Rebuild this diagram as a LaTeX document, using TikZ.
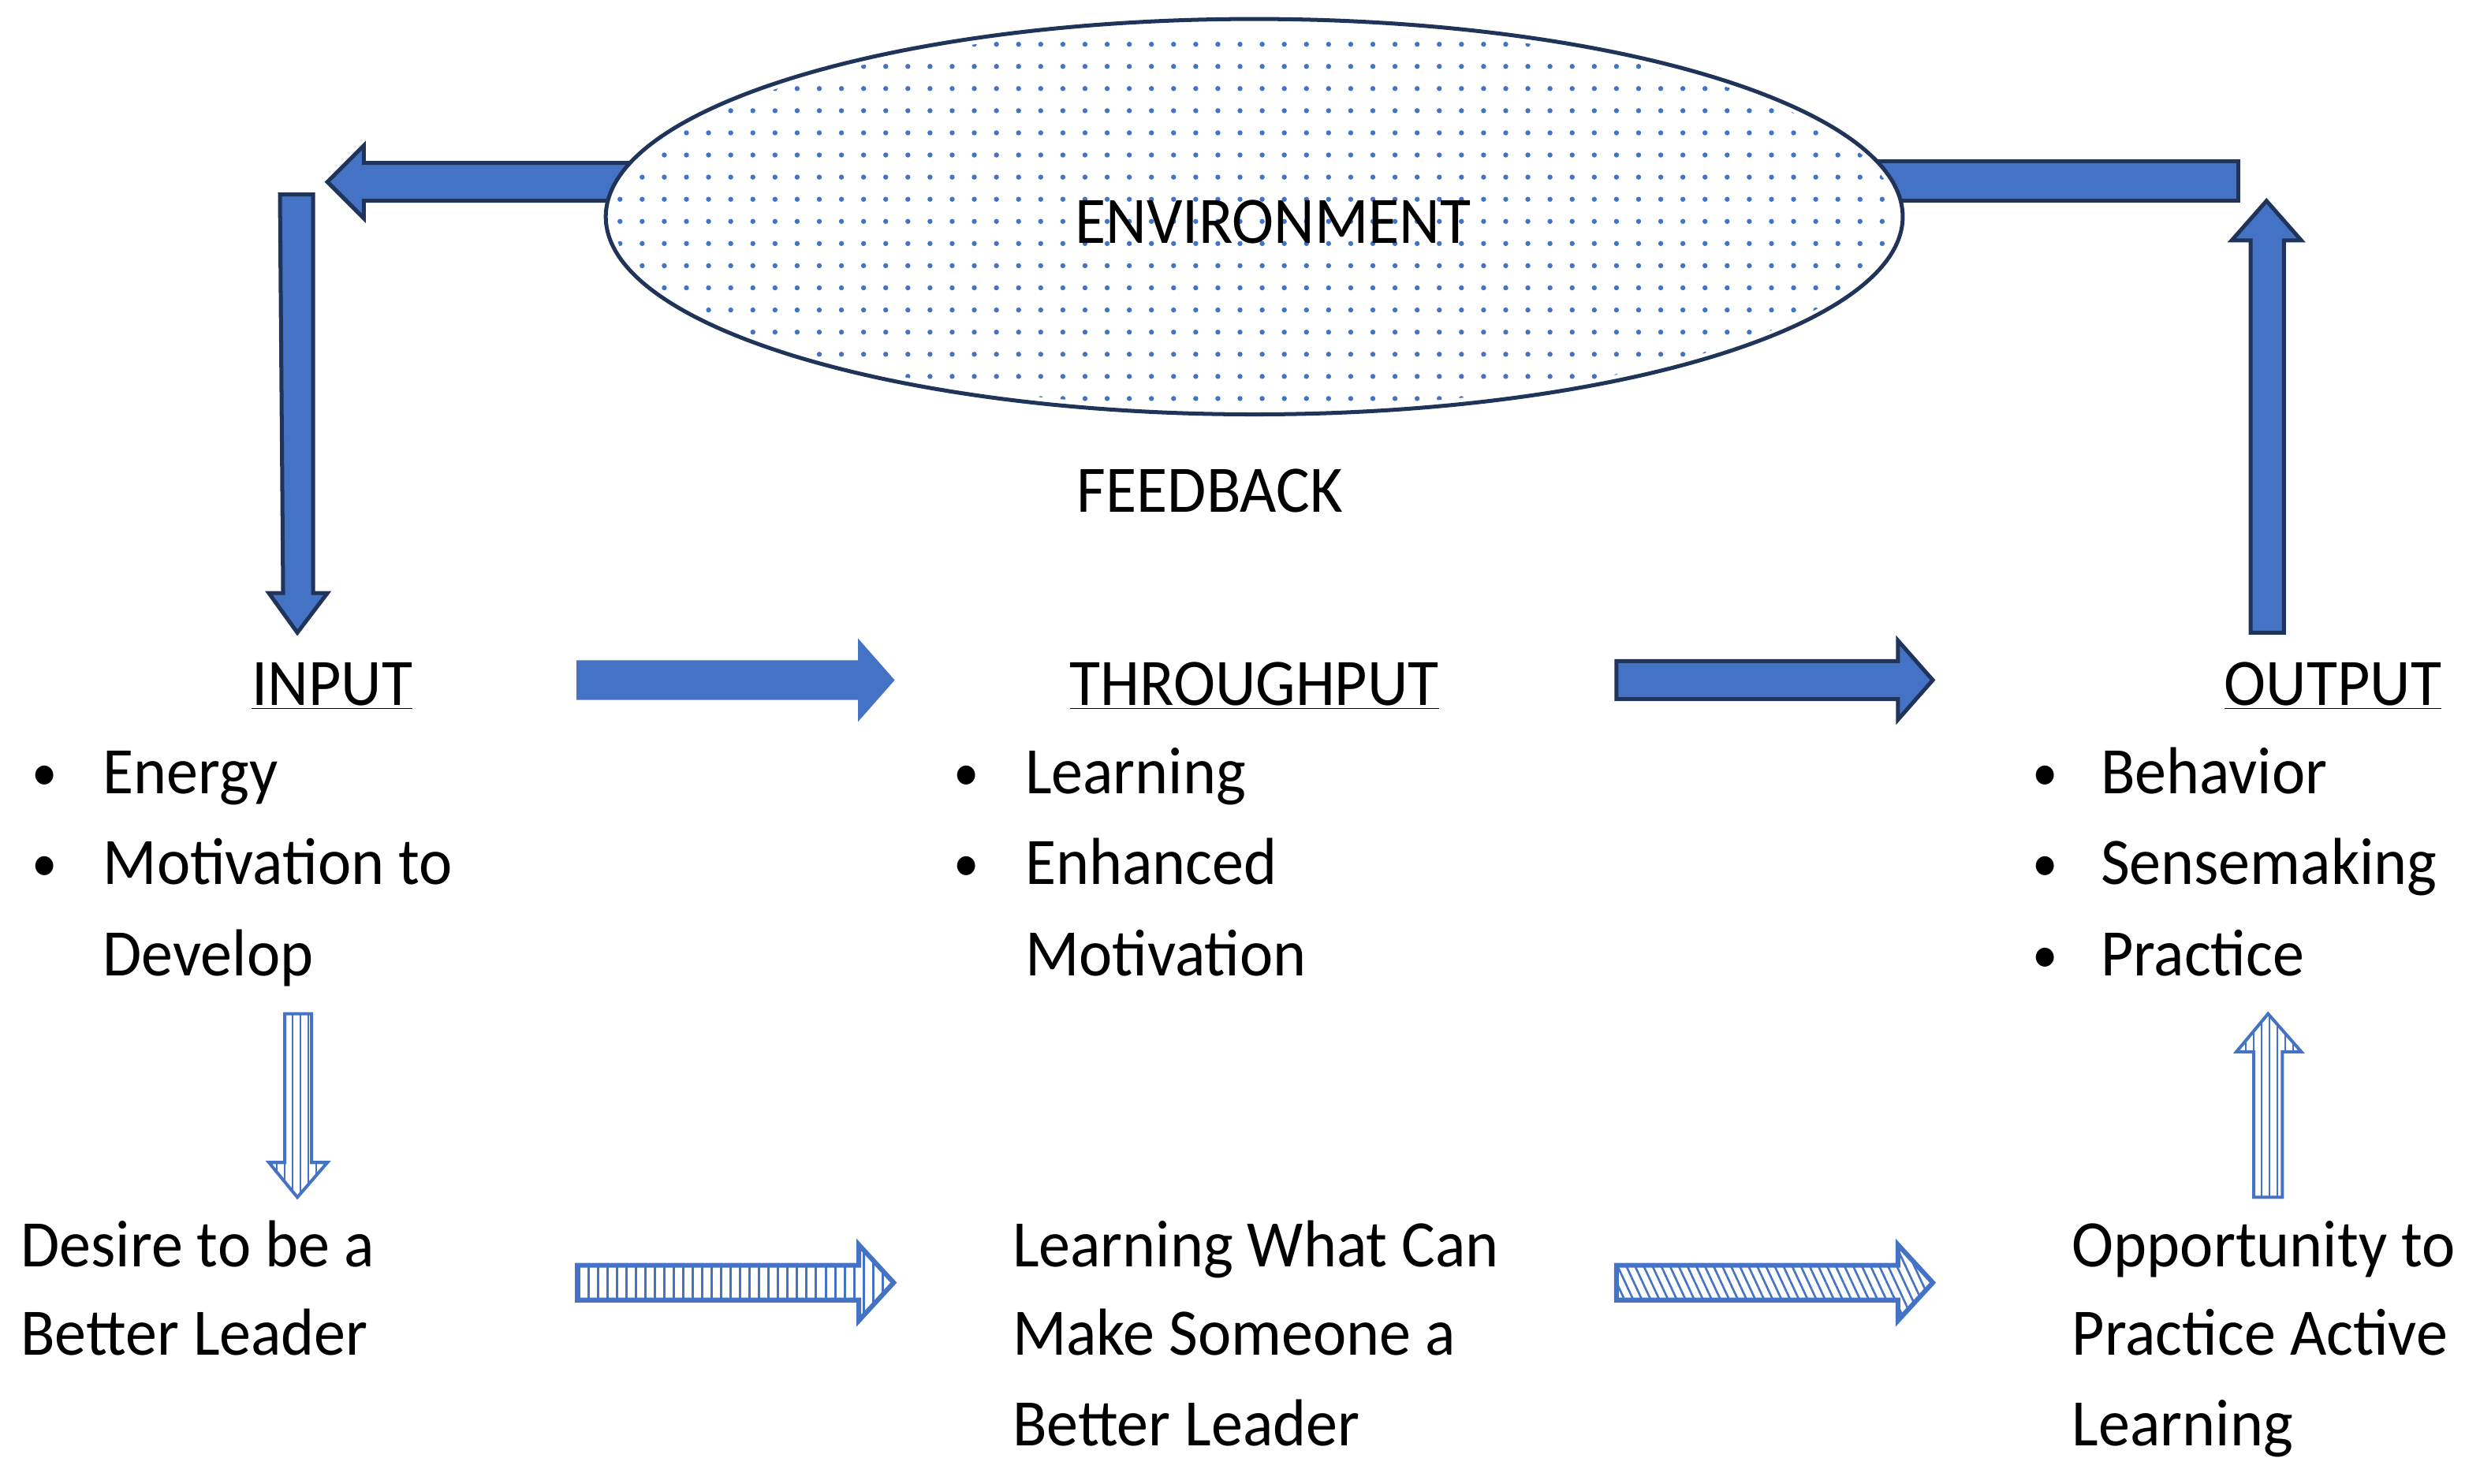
\documentclass[tikz,border=0pt]{standalone}
\usepackage{fontspec}
\setmainfont{Carlito}
\usetikzlibrary{patterns,patterns.meta,shapes.geometric}
\definecolor{bl}{HTML}{4472C4}
\definecolor{dk}{HTML}{1F3458}
\begin{document}
\begin{tikzpicture}[x=1pt,y=-1pt,
  solid/.style={fill=bl,draw=dk,line width=2.5pt,line join=miter},
  flat/.style={fill=bl,draw=bl,line width=1pt},
  hollow/.style={draw=bl,line width=2pt,fill=white},
  txt/.style={anchor=base west,inner sep=0,font=\fontsize{42}{50}\selectfont,xscale=0.95},
  ctxt/.style={anchor=base,inner sep=0,font=\fontsize{42}{50}\selectfont,xscale=0.95}]
\useasboundingbox (0,0) rectangle (1568,938);
% top feedback arrows
\draw[solid] (400,103) -- (230,103) -- (230,92) -- (207,115) -- (230,138) -- (230,127) -- (400,127) -- cycle;
\draw[solid] (1180,102) rectangle (1415,127);
\draw[solid] (177,123) -- (198,123) -- (198,375) -- (207,375) -- (188,400) -- (170,375) -- (179,375) -- cycle;
\draw[solid] (1423,400) -- (1444,400) -- (1444,152) -- (1455,152) -- (1433,127) -- (1411,152) -- (1423,152) -- cycle;
% environment
\node[fill=white,ellipse,minimum width=820,minimum height=250,inner sep=0] (env) at (793,137) {};
\fill[pattern={Dots[distance=14pt,radius=1.6pt]},pattern color=bl] (793,137) ellipse [x radius=406, y radius=121];
\draw[dk,line width=2.5pt] (793,137) ellipse [x radius=410, y radius=125];
\node[ctxt] (envt) at (805,154) {ENVIRONMENT};
\node[ctxt] (fb) at (765,324) {FEEDBACK};
% headings
\node[ctxt] (in) at (210,446) {\underline{INPUT}};
\node[ctxt] (th) at (793,446) {\underline{THROUGHPUT}};
\node[ctxt] (out) at (1475,446) {\underline{OUTPUT}};
% bullets
\foreach \x/\y in {20/559, 20/502, 603/502, 603/559, 1285/502, 1285/559, 1285/617}
  \node[txt,font=\fontsize{34}{40}\selectfont] at (\x,\y-2) {•};
\node[txt] (e1) at (65,502) {Energy};
\node[txt] (e2) at (65,559) {Motivation to};
\node[txt] (e3) at (65,617) {Develop};
\node[txt] (t1) at (648,502) {Learning};
\node[txt] (t2) at (648,559) {Enhanced};
\node[txt] (t3) at (648,617) {Motivation};
\node[txt] (o1) at (1328,502) {Behavior};
\node[txt] (o2) at (1328,559) {Sensemaking};
\node[txt] (o3) at (1328,617) {Practice};
% middle arrows
\draw[flat] (365,418) -- (543,418) -- (543,405) -- (565,430) -- (543,455) -- (543,442) -- (365,442) -- cycle;
\draw[fill=bl,draw=dk,line width=2.5pt] (1022,418) -- (1200,418) -- (1200,405) -- (1222,430) -- (1200,455) -- (1200,442) -- (1022,442) -- cycle;
% small hollow arrows
\draw[hollow,postaction={pattern={Lines[angle=90,distance=5pt,line width=1pt]},pattern color=bl}] (180,641) -- (197,641) -- (197,735) -- (207,735) -- (188,757) -- (170,735) -- (180,735) -- cycle;
\draw[hollow,postaction={pattern={Lines[angle=90,distance=5pt,line width=1pt]},pattern color=bl}] (1425,757) -- (1443,757) -- (1443,665) -- (1455,665) -- (1434,641) -- (1414,665) -- (1425,665) -- cycle;
\draw[hollow,line width=3pt,postaction={pattern={Lines[angle=90,distance=6pt,line width=1.5pt]},pattern color=bl}] (365,800) -- (543,800) -- (543,787) -- (565,811) -- (543,835) -- (543,822) -- (365,822) -- cycle;
\draw[hollow,line width=3pt,postaction={pattern={Lines[angle=-65,distance=5pt,line width=1.3pt]},pattern color=bl}] (1022,800) -- (1200,800) -- (1200,787) -- (1222,811) -- (1200,835) -- (1200,822) -- (1022,822) -- cycle;
% bottom text
\node[txt] (b1) at (13,801) {Desire to be a};
\node[txt] (b2) at (13,857) {Better Leader};
\node[txt] (m1) at (640,801) {Learning What Can};
\node[txt] (m2) at (640,857) {Make Someone a};
\node[txt] (m3) at (640,914) {Better Leader};
\node[txt] (r1) at (1310,801) {Opportunity to};
\node[txt] (r2) at (1310,857) {Practice Active};
\node[txt] (r3) at (1310,914) {Learning};
\end{tikzpicture}
\end{document}
